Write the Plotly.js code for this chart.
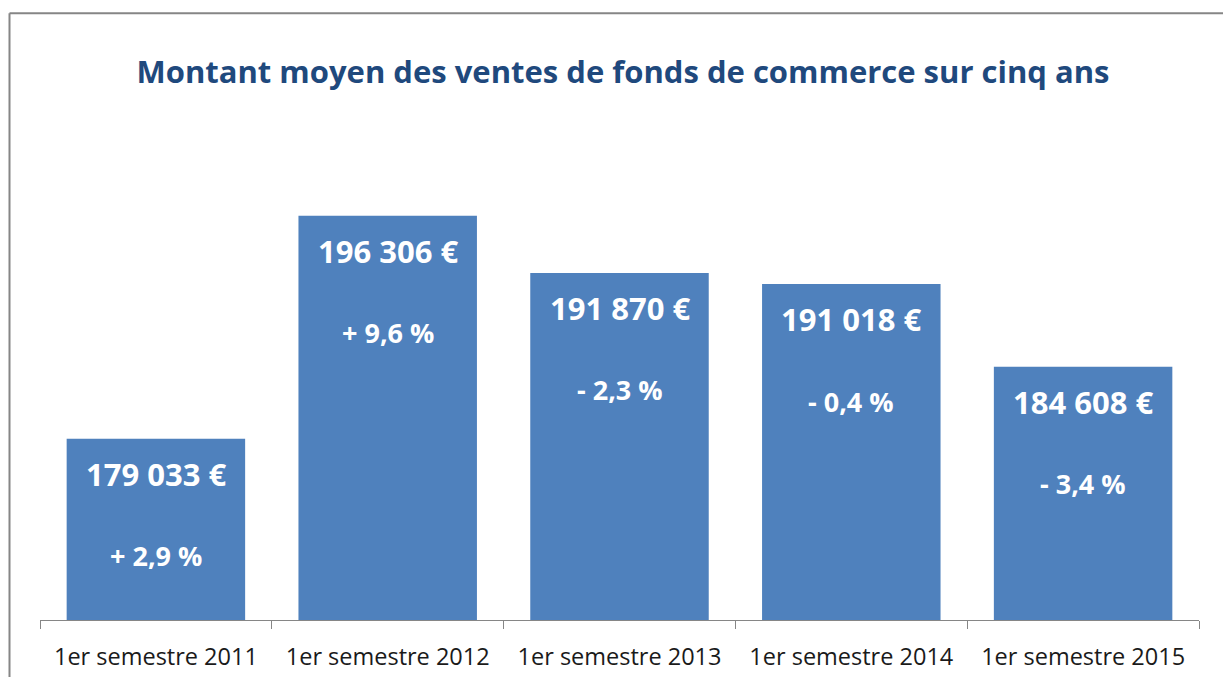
<!DOCTYPE html>
<html>
<head>
<meta charset="utf-8">
<script src="https://cdn.plot.ly/plotly-3.0.1.min.js"></script>
<style>html,body{margin:0;padding:0;background:#fff;}#chart{width:1223px;height:677px;}</style>
</head>
<body>
<div id="chart"></div>
<script>
const categories = ["1er semestre 2011", "1er semestre 2012", "1er semestre 2013", "1er semestre 2014", "1er semestre 2015"];
const values = [179033, 196306, 191870, 191018, 184608];
const changes = ["+ 2,9 %", "+ 9,6 %", "- 2,3 %", "- 0,4 %", "- 3,4 %"];
const titleText = "Montant moyen des ventes de fonds de commerce sur cinq ans";

function fmt(v) {
  return String(v).replace(/\B(?=(\d{3})+(?!\d))/g, " ") + " €";
}

const FONT = "Open Sans, sans-serif";
const annotations = [];
categories.forEach((c, i) => {
  annotations.push({x: c, y: values[i], xref: 'x', yref: 'y', text: fmt(values[i]), showarrow: false,
    yanchor: 'middle', yshift: -35, font: {family: FONT, size: 31, color: '#ffffff', weight: 'bold'}});
  annotations.push({x: c, y: values[i], xref: 'x', yref: 'y', text: changes[i], showarrow: false,
    yanchor: 'middle', yshift: -117, font: {family: FONT, size: 27, color: '#ffffff', weight: 'bold'}});
});

const trace = {
  type: 'bar', x: categories, y: values,
  marker: {color: '#4F81BD'}, hoverinfo: 'none'
};

const layout = {
  width: 1223, height: 677,
  margin: {l: 40, r: 24, t: 168, b: 57},
  paper_bgcolor: '#ffffff', plot_bgcolor: '#ffffff',
  showlegend: false,
  bargap: 0.23,
  title: {text: titleText, x: 0.5094, xref: 'container', xanchor: 'center', y: 1 - 72/677, yref: 'container', yanchor: 'middle',
    font: {family: FONT, size: 31, color: '#1F497D', weight: 'bold'}},
  xaxis: {type: 'category', showline: true, linecolor: '#868686', linewidth: 1, ticks: 'outside', tickson: 'boundaries',
    ticklen: 8, tickcolor: '#868686', tickfont: {family: FONT, size: 23.5, color: '#1a1a1a'}, ticklabelstandoff: 16,
    showgrid: false, zeroline: false, fixedrange: true},
  yaxis: {range: [165000, 200000], visible: false, showgrid: false, zeroline: false, fixedrange: true},
  annotations: annotations,
  shapes: [
    {type: 'line', xref: 'paper', yref: 'paper', x0: (9.5-40)/1159, x1: 1.1, y0: (620.5-13)/452.5, y1: (620.5-13)/452.5, line: {color: '#868686', width: 2}},
    {type: 'line', xref: 'paper', yref: 'paper', x0: (9.5-40)/1159, x1: (9.5-40)/1159, y0: (620.5-13)/452.5, y1: -0.3, line: {color: '#868686', width: 2}}
  ]
};

Plotly.newPlot('chart', [trace], layout, {staticPlot: true, displayModeBar: false});
</script>
</body>
</html>
